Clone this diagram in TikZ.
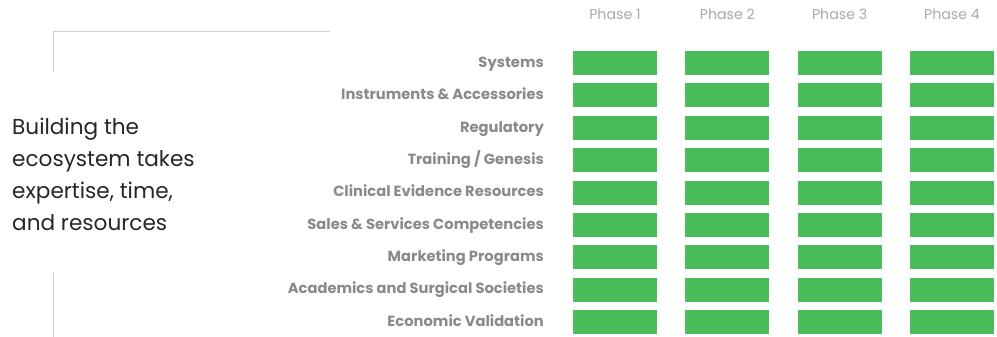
\documentclass[tikz,border=0pt]{standalone}
\usepackage{fontspec}
\setmainfont{Poppins}
\definecolor{barg}{HTML}{4ABD5A}
\definecolor{labg}{HTML}{8A8A8E}
\definecolor{phg}{HTML}{A8A8A8}
\definecolor{lineg}{HTML}{CFCFD2}
\definecolor{titc}{HTML}{262626}
\tikzset{
  bar/.style={fill=barg, draw=none, minimum width=84pt, minimum height=24pt, inner sep=0pt, anchor=center},
  rowlab/.style={anchor=base east, inner sep=0pt, text=labg, font=\fontsize{14.7}{16}\selectfont\bfseries},
  phaselab/.style={anchor=center, inner sep=0pt, text=phg, font=\fontsize{14.2}{16}\selectfont},
  frame/.style={draw=lineg, line width=1pt},
  title/.style={anchor=north west, inner sep=0pt, align=left, text=titc, font=\fontsize{21.6}{31.8}\selectfont}
}
\begin{document}
\begin{tikzpicture}[x=1pt,y=-1pt]
\useasboundingbox (0,0) rectangle (997,337);
% frame lines
\coordinate (t0) at (53,72);
\coordinate (t1) at (53,32);
\coordinate (t2) at (330,32);
\coordinate (u0) at (53,273);
\coordinate (u1) at (53,337);
\draw[frame] (t0) -- (t1) -- (t2);
\draw[frame] (u0) -- (u1);
% title
\node[title] (title) at (12,118) {Building the\\ecosystem takes\\expertise, time,\\and resources};
% phases
\foreach \i in {1,...,4}{
  \node[phaselab] (p\i) at ({615+112.33*(\i-1)},14.5) {Phase \i};
}
% rows
\foreach \lab [count=\j] in {Systems,Instruments \& Accessories,Regulatory,Training / Genesis,Clinical Evidence Resources,Sales \& Services Competencies,Marketing Programs,Academics and Surgical Societies,Economic Validation}{
  \node[rowlab] (l\j) at (544,{67.3+32.375*(\j-1)}) {\lab};
  \foreach \i in {1,...,4}{
    \node[bar] (b\i-\j) at ({615+112.33*(\i-1)},{63+32.375*(\j-1)}) {};
  }
}
\end{tikzpicture}
\end{document}
